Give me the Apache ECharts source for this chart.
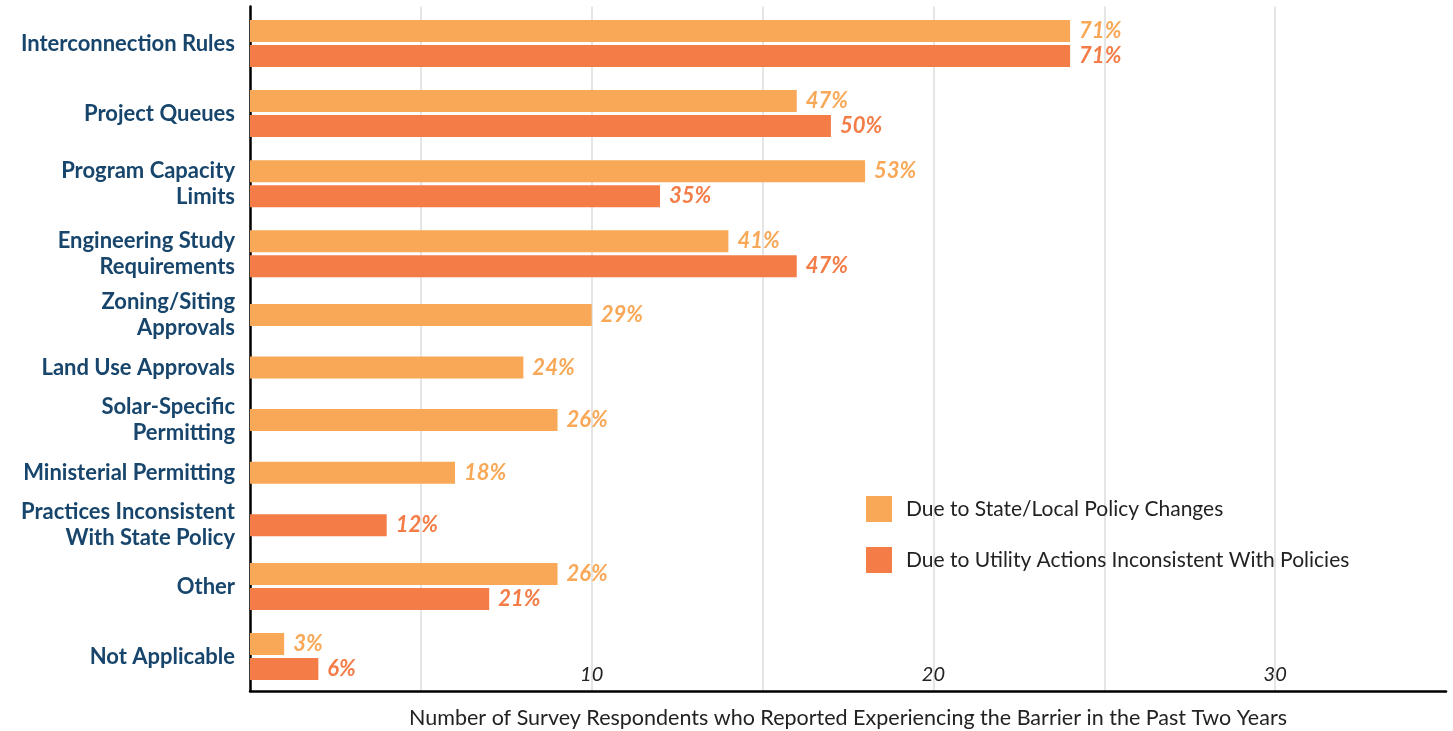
<!DOCTYPE html>
<html>
<head>
<meta charset="utf-8">
<script src="https://cdn.jsdelivr.net/npm/echarts@6/dist/echarts.min.js"></script>
<style>
  html, body { margin: 0; padding: 0; background: #ffffff; }
  #chart { width: 1453px; height: 731px; }
</style>
</head>
<body>
<div id="chart"></div>
<script>
// Survey barriers: respondents reporting each barrier (of 34 total)
const respondents = 34;
const categories = [
  'Interconnection Rules',
  'Project Queues',
  'Program Capacity\nLimits',
  'Engineering Study\nRequirements',
  'Zoning/Siting\nApprovals',
  'Land Use Approvals',
  'Solar-Specific\nPermitting',
  'Ministerial Permitting',
  'Practices Inconsistent\nWith State Policy',
  'Other',
  'Not Applicable'
];
const stateCounts   = [24, 16, 18, 14, 10, 8, 9, 6, null, 9, 1];
const utilityCounts = [24, 17, 12, 16, null, null, null, null, 4, 7, 2];
const seriesNames = [
  'Due to State/Local Policy Changes',
  'Due to Utility Actions Inconsistent With Policies'
];
const xTicks = [10, 20, 30];

const STATE_COLOR = '#F8A857';
const UTILITY_COLOR = '#F37C47';
const NAVY = '#17456B';

// Build fine-grained row slots so two-bar groups get more room than single bars
const PAIR_ROWS = 56, SINGLE_ROWS = 42, PAD_ROWS = 1;
const rowKeys = [];
const rowLabel = {};
const stateRows = [];
const utilityRows = [];
let start = 0;
categories.forEach((name, i) => {
  const s = stateCounts[i], u = utilityCounts[i];
  const pair = s != null && u != null;
  const size = pair ? PAIR_ROWS : SINGLE_ROWS;
  for (let k = 0; k < size; k++) {
    rowKeys.push('r' + (start + k));
    stateRows.push(null);
    utilityRows.push(null);
  }
  if (pair) {
    stateRows[start + 19] = s;
    utilityRows[start + 39] = u;
    rowLabel['r' + (start + 29)] = name;
  } else {
    const r = start + 22;
    if (s != null) stateRows[r] = s;
    if (u != null) utilityRows[r] = u;
    rowLabel['r' + r] = name;
  }
  start += size;
});
for (let k = 0; k < PAD_ROWS; k++) {
  rowKeys.push('r' + (start + k));
  stateRows.push(null);
  utilityRows.push(null);
}

const pct = v => Math.round(v / respondents * 100) + '%';

const valueLabel = color => ({
  show: true,
  position: 'right',
  distance: 9,
  formatter: p => (p.value == null ? '' : pct(p.value)),
  color: color,
  fontFamily: 'Lato',
  fontStyle: 'italic',
  fontWeight: 'bold',
  fontSize: 22
});

const chart = echarts.init(document.getElementById('chart'), null, { renderer: 'canvas' });
chart.setOption({
  animation: false,
  backgroundColor: '#ffffff',
  textStyle: { fontFamily: 'Lato' },
  grid: { left: 250, right: 7, top: 6.6, bottom: 40, containLabel: false, outerBoundsMode: 'none' },
  legend: {
    orient: 'vertical',
    left: 866,
    top: 496,
    padding: 0,
    itemWidth: 26,
    itemHeight: 26,
    itemGap: 25,
    icon: 'rect',
    textStyle: { color: '#222222', fontSize: 21, fontFamily: 'Lato', padding: [0, 0, 0, 9] },
    data: seriesNames
  },
  xAxis: {
    type: 'value',
    min: 0,
    max: 35,
    interval: 5,
    axisLine: { show: true, lineStyle: { color: '#000000', width: 2.5 } },
    axisTick: { show: false },
    axisLabel: {
      inside: true,
      margin: 6,
      color: '#222222',
      fontStyle: 'italic',
      fontSize: 20,
      fontFamily: 'Lato',
      formatter: v => (xTicks.indexOf(v) >= 0 ? String(v) : '')
    },
    splitLine: { show: true, showMaxLine: false, lineStyle: { color: '#e5e5e5', width: 2 } },
    name: 'Number of Survey Respondents who Reported Experiencing the Barrier in the Past Two Years',
    nameLocation: 'middle',
    nameGap: 16,
    nameTextStyle: { color: '#222222', fontSize: 21.5, fontFamily: 'Lato' }
  },
  yAxis: {
    type: 'category',
    inverse: true,
    data: rowKeys,
    axisLine: { show: true, lineStyle: { color: '#000000', width: 2.5 } },
    axisTick: { show: false },
    splitLine: { show: false },
    axisLabel: {
      interval: 0,
      margin: 15,
      color: NAVY,
      fontWeight: 'bold',
      fontSize: 22,
      lineHeight: 26,
      fontFamily: 'Lato',
      align: 'right',
      formatter: key => rowLabel[key] || ''
    }
  },
  series: [
    {
      name: seriesNames[0],
      type: 'bar',
      data: stateRows,
      barWidth: 22,
      barGap: '-100%',
      itemStyle: { color: STATE_COLOR },
      label: valueLabel(STATE_COLOR)
    },
    {
      name: seriesNames[1],
      type: 'bar',
      data: utilityRows,
      barWidth: 22,
      barGap: '-100%',
      itemStyle: { color: UTILITY_COLOR },
      label: valueLabel(UTILITY_COLOR)
    }
  ]
});
</script>
</body>
</html>
